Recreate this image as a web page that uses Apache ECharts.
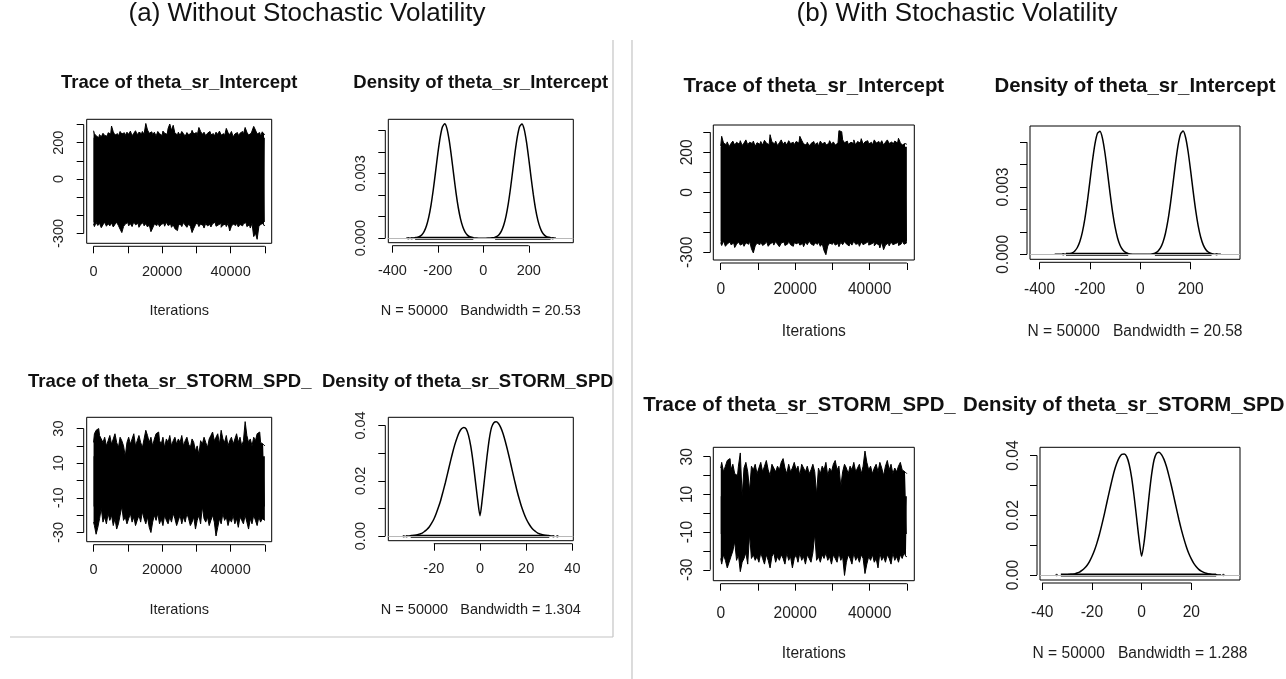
<!DOCTYPE html>
<html>
<head>
<meta charset="utf-8">
<script src="https://cdn.jsdelivr.net/npm/echarts@6/dist/echarts.min.js"></script>
<style>
  html, body { margin: 0; padding: 0; background: #fff; }
  #chart { width: 1286px; height: 679px; }
</style>
</head>
<body>
<div id="chart"></div>
<script>
// ---------- MCMC diagnostics: trace envelopes (sampled every 500 iterations) ----------
const traceStep = 500;
const traceIter = Array.from({ length: 101 }, (_, i) => i * traceStep);

// (a) without stochastic volatility, theta_sr_Intercept: upper / lower edge of the chain
const traceA_int_hi = [
  266, 250, 238, 228, 245, 232, 252, 240, 236, 255,
  248, 292, 260, 242, 250, 236, 262, 248, 255, 240,
  258, 246, 264, 238, 252, 266, 244, 258, 250, 262,
  246, 306, 270, 252, 260, 244, 258, 236, 262, 250,
  240, 264, 252, 246, 278, 303, 268, 296, 252, 244,
  258, 240, 262, 250, 236, 256, 244, 252, 268, 248,
  256, 240, 284, 262, 246, 258, 238, 252, 262, 244,
  250, 236, 258, 246, 264, 242, 250, 238, 279, 256,
  244, 262, 232, 248, 256, 240, 252, 262, 246, 284,
  258, 242, 252, 264, 290, 270, 248, 256, 236, 260,
  246
];
const traceA_int_lo = [
  -248, -262, -240, -256, -244, -268, -252, -238, -260, -246,
  -258, -242, -264, -250, -238, -256, -276, -295, -262, -248,
  -240, -258, -246, -262, -236, -252, -244, -266, -250, -240,
  -258, -246, -264, -252, -290, -270, -248, -256, -240, -262,
  -250, -244, -260, -238, -256, -248, -266, -252, -274, -284,
  -258, -246, -262, -240, -254, -266, -248, -260, -295, -272,
  -252, -240, -262, -248, -256, -270, -244, -258, -250, -264,
  -246, -238, -260, -252, -244, -266, -254, -248, -262, -244,
  -286, -260, -248, -256, -242, -264, -250, -258, -246, -240,
  -262, -252, -270, -244, -317, -298, -332, -262, -250, -244,
  -256
];
// (a) theta_sr_STORM_SPD_
const traceA_storm_hi = [
  22, 27, 29, 30, 26, 24, 22, 25, 20, 23,
  26, 21, 24, 27, 22, 19, 25, 23, 20, 14,
  22, 25, 21, 24, 27, 20, 23, 26, 22, 19,
  24, 29, 26, 22, 25, 20, 24, 27, 28, 23,
  21, 25, 19, 24, 22, 26, 20, 23, 25, 21,
  24, 22, 26, 20, 23, 25, 21, 19, 24, 22,
  17, 20, 15, 23, 21, 25, 22, 19, 24, 26,
  28, 23, 25, 27, 21, 29, 24, 22, 26, 20,
  23, 25, 21, 24, 27, 22, 25, 20, 23, 34,
  26, 22, 24, 20, 25, 23, 27, 28, 22, 21,
  20
];
const traceA_storm_lo = [
  -24, -26, -31, -27, -22, -16, -24, -21, -25, -19,
  -23, -20, -26, -22, -28, -25, -20, -15, -23, -21,
  -25, -22, -19, -24, -21, -26, -23, -20, -24, -18,
  -22, -25, -21, -27, -30, -24, -20, -23, -19, -25,
  -22, -26, -20, -23, -25, -21, -24, -19, -22, -26,
  -23, -20, -25, -21, -24, -19, -22, -26, -24, -21,
  -28, -23, -20, -25, -15, -22, -24, -21, -26, -23,
  -20, -24, -32, -27, -22, -25, -19, -23, -21, -26,
  -22, -24, -20, -25, -22, -27, -21, -23, -25, -20,
  -24, -28, -22, -25, -20, -23, -26, -21, -24, -22,
  -23
];
// (b) with stochastic volatility, theta_sr_Intercept
const traceB_int_hi = [
  232, 280, 246, 238, 252, 228, 244, 256, 236, 250,
  240, 258, 234, 246, 262, 238, 250, 244, 256, 230,
  248, 240, 254, 236, 260, 246, 238, 288, 252, 242,
  256, 234, 248, 262, 240, 252, 236, 258, 244, 250,
  238, 254, 246, 280, 260, 242, 236, 250, 232, 244,
  254, 238, 248, 230, 256, 242, 250, 236, 244, 258,
  240, 252, 236, 246, 308, 303, 262, 248, 256, 240,
  250, 244, 262, 236, 254, 246, 268, 240, 252, 258,
  242, 250, 236, 262, 246, 254, 240, 258, 236, 250,
  262, 244, 252, 238, 256, 246, 270, 248, 236, 244,
  240
];
const traceB_int_lo = [
  -252, -266, -244, -270, -258, -248, -262, -254, -276, -260,
  -248, -264, -256, -270, -252, -260, -244, -282, -303, -268,
  -254, -262, -248, -266, -256, -244, -270, -258, -250, -264,
  -246, -260, -272, -254, -248, -266, -258, -244, -262, -270,
  -252, -258, -246, -264, -256, -272, -250, -262, -244, -258,
  -266, -252, -260, -248, -270, -256, -292, -312, -268, -254,
  -260, -248, -264, -256, -272, -250, -262, -246, -258, -268,
  -252, -264, -244, -260, -256, -270, -248, -262, -254, -246,
  -264, -258, -250, -268, -256, -262, -278, -248, -287, -264,
  -254, -268, -248, -262, -256, -250, -266, -258, -244, -260,
  -252
];
// (b) theta_sr_STORM_SPD_
const traceB_storm_hi = [
  24, 27, 22, 25, 28, 29, 23, 26, 21, 20,
  25, 32, 9, 24, 27, 22, 12, 25, 23, 26,
  21, 24, 27, 22, 25, 28, 23, 20, 26, 24,
  22, 25, 23, 27, 29, 24, 21, 26, 22, 24,
  27, 23, 25, 20, 26, 24, 22, 25, 21, 23,
  26, 22, 10, 24, 21, 25, 23, 27, 20, 24,
  22, 26, 28, 23, 25, 14, 22, 26, 24, 21,
  25, 23, 27, 22, 24, 26, 21, 25, 33, 27,
  23, 25, 21, 24, 26, 22, 27, 24, 20, 25,
  28, 23, 26, 21, 24, 22, 25, 27, 23, 22,
  21
];
const traceB_storm_lo = [
  -24, -27, -22, -25, -29, -26, -23, -20, -15, -25,
  -22, -31, -26, -24, -21, -27, -11, -24, -22, -25,
  -23, -26, -21, -24, -27, -22, -25, -29, -23, -21,
  -26, -23, -25, -22, -24, -27, -21, -25, -23, -29,
  -24, -22, -26, -21, -25, -23, -27, -22, -24, -26,
  -21, -11, -25, -23, -26, -22, -24, -21, -25, -23,
  -27, -22, -24, -26, -21, -25, -23, -33, -26, -22,
  -24, -27, -21, -25, -23, -26, -22, -24, -32, -27,
  -23, -25, -22, -26, -24, -29, -21, -25, -23, -26,
  -22, -24, -27, -21, -25, -23, -26, -22, -24, -21,
  -23
];

// ---------- kernel density estimates ----------
const densIntX = Array.from({ length: 67 }, (_, i) => -340 + i * 10);
const densA_int = [
  0, 7e-7, 2e-6, 5.5e-6, 1.4e-5, 3.4e-5, 7.8e-5, 1.63e-4, 3.17e-4, 5.76e-4,
  9.75e-4, 1.537e-3, 2.257e-3, 3.086e-3, 3.93e-3, 4.66e-3, 5.15e-3, 5.30e-3, 5.08e-3, 4.53e-3,
  3.77e-3, 2.92e-3, 2.10e-3, 1.41e-3, 8.83e-4, 5.14e-4, 2.79e-4, 1.41e-4, 6.6e-5, 2.9e-5,
  1.2e-5, 4.5e-6, 1.5e-6, 0, 0, 0, 2.2e-6, 6e-6, 1.56e-5, 3.75e-5,
  8.4e-5, 1.74e-4, 3.38e-4, 6.09e-4, 1.024e-3, 1.603e-3, 2.336e-3, 3.17e-3, 4.01e-3, 4.72e-3,
  5.18e-3, 5.29e-3, 5.04e-3, 4.46e-3, 3.68e-3, 2.83e-3, 2.03e-3, 1.35e-3, 8.39e-4, 4.85e-4,
  2.61e-4, 1.31e-4, 6.1e-5, 2.7e-5, 1.1e-5, 4e-6, 1.3e-6
];
const densB_int = [
  0, 0, 4.5e-7, 1.4e-6, 4.3e-6, 1.17e-5, 2.96e-5, 6.97e-5, 1.52e-4, 3.06e-4,
  5.73e-4, 9.92e-4, 1.592e-3, 2.368e-3, 3.263e-3, 4.165e-3, 4.926e-3, 5.398e-3, 5.481e-3, 5.157e-3,
  4.495e-3, 3.63e-3, 2.716e-3, 1.883e-3, 1.21e-3, 7.2e-4, 3.97e-4, 2.03e-4, 9.6e-5, 4.2e-5,
  1.7e-5, 6.4e-6, 2e-6, 0, 0, 0, 1.3e-6, 3.9e-6, 1.06e-5, 2.71e-5,
  6.42e-5, 1.41e-4, 2.87e-4, 5.4e-4, 9.42e-4, 1.524e-3, 2.284e-3, 3.17e-3, 4.078e-3, 4.86e-3,
  5.367e-3, 5.492e-3, 5.206e-3, 4.573e-3, 3.721e-3, 2.806e-3, 1.96e-3, 1.269e-3, 7.61e-4, 4.23e-4,
  2.18e-4, 1.04e-4, 4.6e-5, 1.9e-5, 7e-6, 2.5e-6, 0
];
const densStormX = Array.from({ length: 65 }, (_, i) => -32 + i);
const densA_storm = [
  0, 0.00003, 0.0001, 0.0002, 0.0003, 0.0005, 0.0008, 0.0011, 0.0017, 0.0024,
  0.0033, 0.0046, 0.0061, 0.0081, 0.0104, 0.0130, 0.0161, 0.0193, 0.0228, 0.0263,
  0.0297, 0.0328, 0.0354, 0.0375, 0.0388, 0.0393, 0.0388, 0.0365, 0.0325, 0.0268,
  0.0200, 0.0130, 0.0074, 0.0135, 0.0210, 0.0285, 0.0350, 0.0393, 0.0410, 0.0413,
  0.0407, 0.0392, 0.0370, 0.0341, 0.0308, 0.0273, 0.0236, 0.0200, 0.0165, 0.0134,
  0.0106, 0.0083, 0.0063, 0.0047, 0.0034, 0.0024, 0.0017, 0.0011, 0.0008, 0.0005,
  0.0003, 0.0002, 0.0001, 0.00003, 0
];
const densB_storm = [
  0, 0.00004, 0.0001, 0.0002, 0.0003, 0.0004, 0.0007, 0.0010, 0.0016, 0.0023,
  0.0032, 0.0045, 0.0062, 0.0082, 0.0107, 0.0136, 0.0169, 0.0204, 0.0242, 0.0279,
  0.0315, 0.0348, 0.0374, 0.0393, 0.0404, 0.0405, 0.0396, 0.0370, 0.0325, 0.0262,
  0.0190, 0.0118, 0.0063, 0.0110, 0.0185, 0.0265, 0.0335, 0.0385, 0.0407, 0.0411,
  0.0403, 0.0387, 0.0363, 0.0332, 0.0298, 0.0261, 0.0223, 0.0186, 0.0152, 0.0122,
  0.0095, 0.0072, 0.0054, 0.0039, 0.0028, 0.0019, 0.0013, 0.0009, 0.0006, 0.0004,
  0.0002, 0.0001, 0.0001, 0.00003, 0
];

// observation rugs: continuous stretches and isolated draws
const rugA_int = [[-300, -44], [52, 296]];
const rugA_int_pts = [-330, -315, 305];
const rugA_storm = [[-30, 30]];
const rugA_storm_pts = [-33, -31.8, 31.8, 33.5];
const rugB_int = [[-295, -48], [58, 283]];
const rugB_int_pts = [-306, 303];
const rugB_storm = [[-32.5, 30]];
const rugB_storm_pts = [-34.2, 32.9];

// ---------- ticks and labels ----------
const traceXTicks = [0, 10000, 20000, 30000, 40000, 50000];
const traceXLabels = [0, 20000, 40000];
const intTraceYTicks = [-300, -200, -100, 0, 100, 200, 300];
const intTraceYLabels = [-300, 0, 200];
const stormTraceYTicks = [-30, -20, -10, 0, 10, 20, 30];
const stormTraceYLabels = [-30, -10, 10, 30];
const intDensXTicks = [-400, -200, 0, 200];
const intDensYTicks = [0, 0.001, 0.002, 0.003, 0.004, 0.005];
const intDensYLabels = [0, 0.003];
const stormDensXTicksA = [-20, 0, 20, 40];
const stormDensXTicksB = [-40, -20, 0, 20];
const stormDensYTicks = [0, 0.01, 0.02, 0.03, 0.04];
const stormDensYLabels = [0, 0.02, 0.04];

// ---------- layout ----------
const FONT = 'Arial, "Liberation Sans", Helvetica, sans-serif';
const AX_OFF = 3;

const panels = [
  { // (a) trace intercept
    kind: 'trace', box: [86.7, 119.3, 185, 124], x: [-2000, 52000], y: [-354, 329],
    hi: traceA_int_hi, lo: traceA_int_lo,
    xt: traceXTicks, xl: traceXLabels, yt: intTraceYTicks, yl: intTraceYLabels, yfmt: v => String(v),
    title: 'Trace of theta_sr_Intercept', tx: 179.2, ty: 83.3, talign: 'center',
    sub: 'Iterations', sy: 310.7, fs: 14.5, tfs: 18.5, xm: 18, ym: 17
  },
  { // (a) density intercept
    kind: 'dens', box: [388.3, 119.3, 185, 123.4], x: [-418, 396], y: [-0.00021, 0.00551],
    dx: densIntX, dy: densA_int, rug: rugA_int, rugPts: rugA_int_pts,
    xt: intDensXTicks, xl: intDensXTicks, yt: intDensYTicks, yl: intDensYLabels, yfmt: v => v.toFixed(3),
    title: 'Density of theta_sr_Intercept', tx: 480.8, ty: 83.3, talign: 'center',
    sub: 'N = 50000   Bandwidth = 20.53', sy: 310.7, fs: 14.5, tfs: 18.5, xm: 18, ym: 17
  },
  { // (a) trace storm speed
    kind: 'trace', box: [86.7, 417.3, 185, 124.4], x: [-2000, 52000], y: [-35.3, 36.5],
    hi: traceA_storm_hi, lo: traceA_storm_lo,
    xt: traceXTicks, xl: traceXLabels, yt: stormTraceYTicks, yl: stormTraceYLabels, yfmt: v => String(v),
    title: 'Trace of theta_sr_STORM_SPD_', tx: 28, ty: 382, talign: 'left',
    sub: 'Iterations', sy: 609.5, fs: 14.5, tfs: 18.5, xm: 18, ym: 17
  },
  { // (a) density storm speed
    kind: 'dens', box: [388.3, 417.3, 185, 123.4], x: [-39.7, 40.4], y: [-0.00165, 0.04295],
    dx: densStormX, dy: densA_storm, rug: rugA_storm, rugPts: rugA_storm_pts,
    xt: stormDensXTicksA, xl: stormDensXTicksA, yt: stormDensYTicks, yl: stormDensYLabels, yfmt: v => v.toFixed(2),
    title: 'Density of theta_sr_STORM_SPD', tx: 322, ty: 382, talign: 'left',
    sub: 'N = 50000   Bandwidth = 1.304', sy: 609.5, fs: 14.5, tfs: 18.5, xm: 18, ym: 17
  },
  { // (b) trace intercept
    kind: 'trace', box: [713.3, 125, 201, 135], x: [-2000, 52000], y: [-338.5, 336.5],
    hi: traceB_int_hi, lo: traceB_int_lo,
    xt: traceXTicks, xl: traceXLabels, yt: intTraceYTicks, yl: intTraceYLabels, yfmt: v => String(v),
    title: 'Trace of theta_sr_Intercept', tx: 813.8, ty: 86.7, talign: 'center',
    sub: 'Iterations', sy: 331.7, fs: 15.6, tfs: 20.4, xm: 19, ym: 15
  },
  { // (b) density intercept
    kind: 'dens', box: [1030, 126, 210, 133.3], x: [-438, 396], y: [-0.00022, 0.00572],
    dx: densIntX, dy: densB_int, rug: rugB_int, rugPts: rugB_int_pts,
    xt: intDensXTicks, xl: intDensXTicks, yt: intDensYTicks, yl: intDensYLabels, yfmt: v => v.toFixed(3),
    title: 'Density of theta_sr_Intercept', tx: 1135, ty: 86.7, talign: 'center',
    sub: 'N = 50000   Bandwidth = 20.58', sy: 331.7, fs: 15.6, tfs: 20.4, xm: 19, ym: 15
  },
  { // (b) trace storm speed
    kind: 'trace', box: [713.3, 447.3, 201, 133.4], x: [-2000, 52000], y: [-35.8, 35],
    hi: traceB_storm_hi, lo: traceB_storm_lo,
    xt: traceXTicks, xl: traceXLabels, yt: stormTraceYTicks, yl: stormTraceYLabels, yfmt: v => String(v),
    title: 'Trace of theta_sr_STORM_SPD_', tx: 643.3, ty: 405, talign: 'left',
    sub: 'Iterations', sy: 653.3, fs: 15.6, tfs: 20.4, xm: 22, ym: 15
  },
  { // (b) density storm speed
    kind: 'dens', box: [1040, 447.3, 200, 132.7], x: [-40.9, 39.6], y: [-0.00164, 0.04274],
    dx: densStormX, dy: densB_storm, rug: rugB_storm, rugPts: rugB_storm_pts,
    xt: stormDensXTicksB, xl: stormDensXTicksB, yt: stormDensYTicks, yl: stormDensYLabels, yfmt: v => v.toFixed(2),
    title: 'Density of theta_sr_STORM_SPD', tx: 963, ty: 405, talign: 'left',
    sub: 'N = 50000   Bandwidth = 1.288', sy: 653.3, fs: 15.6, tfs: 20.4, xm: 22, ym: 15
  }
];

const grids = [], xAxes = [], yAxes = [], series = [], texts = [];

panels.forEach((p, gi) => {
  const [l, t, w, h] = p.box;
  grids.push({ left: l, top: t, width: w, height: h, show: true, borderColor: '#000', borderWidth: 1, backgroundColor: 'transparent' });

  const labelStyle = { fontFamily: FONT, fontSize: p.fs, color: '#1e1e1e' };
  xAxes.push({
    type: 'value', gridIndex: gi, min: p.x[0], max: p.x[1], offset: AX_OFF, position: 'bottom',
    axisLine: { show: false, onZero: false }, splitLine: { show: false },
    axisTick: { show: true, customValues: p.xt, length: 7, lineStyle: { color: '#000', width: 1 } },
    axisLabel: Object.assign({ customValues: p.xl, margin: p.xm, formatter: v => String(v), hideOverlap: false }, labelStyle)
  });
  yAxes.push({
    type: 'value', gridIndex: gi, min: p.y[0], max: p.y[1], offset: AX_OFF, position: 'left',
    axisLine: { show: false, onZero: false }, splitLine: { show: false },
    axisTick: { show: true, customValues: p.yt, length: 7, lineStyle: { color: '#000', width: 1 } },
    axisLabel: Object.assign({ customValues: p.yl, margin: p.ym, rotate: 90, formatter: p.yfmt, hideOverlap: false }, labelStyle)
  });

  // R-style axis lines that run only between the outermost ticks
  const xr = p.x, yr = p.y, xt = p.xt, yt = p.yt;
  series.push({
    type: 'custom', xAxisIndex: gi, yAxisIndex: gi, silent: true, clip: false, data: [0], z: 5,
    renderItem: (params, api) => {
      const a = api.coord([xt[0], yr[0]]), b = api.coord([xt[xt.length - 1], yr[0]]);
      const c = api.coord([xr[0], yt[0]]), d = api.coord([xr[0], yt[yt.length - 1]]);
      return { type: 'group', children: [
        { type: 'line', shape: { x1: a[0], y1: a[1] + AX_OFF, x2: b[0], y2: b[1] + AX_OFF }, style: { stroke: '#000', lineWidth: 1 } },
        { type: 'line', shape: { x1: c[0] - AX_OFF, y1: c[1], x2: d[0] - AX_OFF, y2: d[1] }, style: { stroke: '#000', lineWidth: 1 } }
      ] };
    }
  });

  if (p.kind === 'trace') {
    // the two fills overlap inside the band so no seam shows at the origin
    const hiBase = Math.max(...p.lo), loBase = Math.min(...p.hi);
    [[p.hi, hiBase], [p.lo, loBase]].forEach(([vals, base]) => {
      series.push({
        type: 'line', xAxisIndex: gi, yAxisIndex: gi, silent: true,
        data: traceIter.map((it, i) => [it, vals[i]]),
        step: 'middle', symbol: 'none',
        lineStyle: { color: '#000', width: 1 },
        areaStyle: { color: '#000', opacity: 1, origin: base }
      });
    });
  } else {
    series.push({
      type: 'line', xAxisIndex: gi, yAxisIndex: gi, silent: true, z: 3,
      data: p.dx.map((v, i) => [v, p.dy[i]]),
      smooth: 0.25, symbol: 'none',
      lineStyle: { color: '#000', width: 1.5 },
      markLine: {
        silent: true, symbol: 'none', label: { show: false },
        lineStyle: { color: '#b8b8b8', type: 'solid', width: 1 },
        data: [{ yAxis: 0 }]
      }
    });
    p.rug.forEach(seg => {
      series.push({
        type: 'line', xAxisIndex: gi, yAxisIndex: gi, silent: true, z: 4,
        data: [[seg[0], 0], [seg[1], 0]], symbol: 'none',
        lineStyle: { color: '#000', width: 3 }
      });
    });
    series.push({
      type: 'scatter', xAxisIndex: gi, yAxisIndex: gi, silent: true, z: 4,
      data: p.rugPts.map(v => [v, 0]), symbolSize: 2.5,
      itemStyle: { color: '#000' }
    });
  }

  texts.push({
    type: 'text', x: p.tx, y: p.ty,
    style: { text: p.title, font: `bold ${p.tfs}px ${FONT}`, fill: '#111', align: p.talign, verticalAlign: 'middle' }
  });
  texts.push({
    type: 'text', x: l + w / 2, y: p.sy,
    style: { text: p.sub, font: `${p.fs}px ${FONT}`, fill: '#1e1e1e', align: 'center', verticalAlign: 'middle' }
  });
});

// panel headings and frame lines
texts.push(
  { type: 'text', x: 307, y: 14, style: { text: '(a) Without Stochastic Volatility', font: `26px ${FONT}`, fill: '#111', align: 'center', verticalAlign: 'middle' } },
  { type: 'text', x: 957, y: 14, style: { text: '(b) With Stochastic Volatility', font: `26px ${FONT}`, fill: '#111', align: 'center', verticalAlign: 'middle' } },
  { type: 'line', shape: { x1: 613, y1: 40, x2: 613, y2: 637 }, style: { stroke: '#c4c4c4', lineWidth: 1.2 }, z: 10 },
  { type: 'line', shape: { x1: 10, y1: 637, x2: 613, y2: 637 }, style: { stroke: '#c4c4c4', lineWidth: 1.2 }, z: 10 },
  { type: 'line', shape: { x1: 632, y1: 40, x2: 632, y2: 679 }, style: { stroke: '#c4c4c4', lineWidth: 1.2 }, z: 10 }
);

const chart = echarts.init(document.getElementById('chart'), null, { renderer: 'canvas' });
chart.setOption({
  backgroundColor: '#fff',
  animation: false,
  grid: grids,
  xAxis: xAxes,
  yAxis: yAxes,
  series: series,
  graphic: { elements: texts }
});
</script>
</body>
</html>
